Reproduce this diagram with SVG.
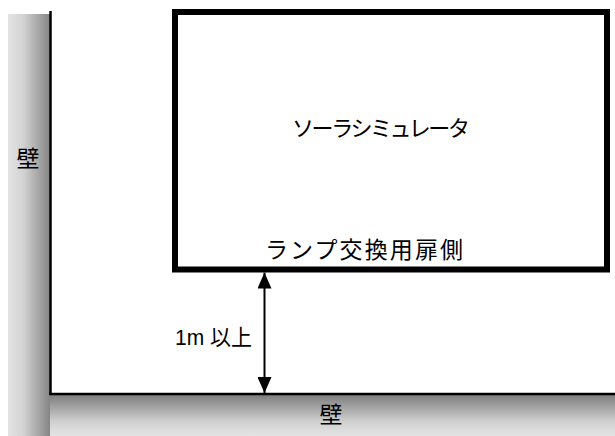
<svg xmlns="http://www.w3.org/2000/svg" width="615" height="436" viewBox="0 0 615 436">
<defs>
<linearGradient id="gv" x1="0" y1="0" x2="1" y2="0">
<stop offset="0" stop-color="#e4e4e4"/>
<stop offset="0.35" stop-color="#d4d4d4"/>
<stop offset="1" stop-color="#858585"/>
</linearGradient>
<linearGradient id="gh" x1="0" y1="0" x2="0" y2="1">
<stop offset="0" stop-color="#7e7e7e"/>
<stop offset="0.65" stop-color="#d0d0d0"/>
<stop offset="1" stop-color="#e4e4e4"/>
</linearGradient>
<marker id="ah" viewBox="0 0 16 14" refX="16" refY="7" markerWidth="16" markerHeight="14" markerUnits="userSpaceOnUse" orient="auto-start-reverse">
<path d="M0,0 L16,7 L0,14 Z" fill="#000"/>
</marker>
<style>
text{font-family:"Liberation Sans","Noto Sans CJK JP",sans-serif;fill:#000}
.line{stroke:#000;fill:none}
</style>
</defs>
<rect width="615" height="436" fill="#fff"/>
<g id="wall-left">
<rect x="8" y="14" width="42" height="422" fill="url(#gv)"/>
<line class="line" x1="50.5" y1="11" x2="50.5" y2="395" stroke-width="2.5"/>
<text x="28" y="167" font-size="23" text-anchor="middle">壁</text>
</g>
<g id="wall-bottom">
<rect x="50" y="395" width="565" height="41" fill="url(#gh)"/>
<line class="line" x1="49.3" y1="394" x2="615" y2="394" stroke-width="2.5"/>
<text x="331" y="423" font-size="23" text-anchor="middle">壁</text>
</g>
<g id="simulator">
<rect x="175" y="12" width="432" height="257.5" fill="#fff" stroke="#000" stroke-width="6"/>
<text x="292" y="136" font-size="22" textLength="178" lengthAdjust="spacing">ソーラシミュレータ</text>
<text x="265" y="258" font-size="23" textLength="198" lengthAdjust="spacing">ランプ交換用扉側</text>
</g>
<g id="connectors">
<line class="line" x1="264.5" y1="272.5" x2="264.5" y2="393" stroke-width="2" marker-start="url(#ah)" marker-end="url(#ah)"/>
<text x="175" y="345" font-size="22" textLength="77" lengthAdjust="spacingAndGlyphs">1m 以上</text>
</g>
</svg>
